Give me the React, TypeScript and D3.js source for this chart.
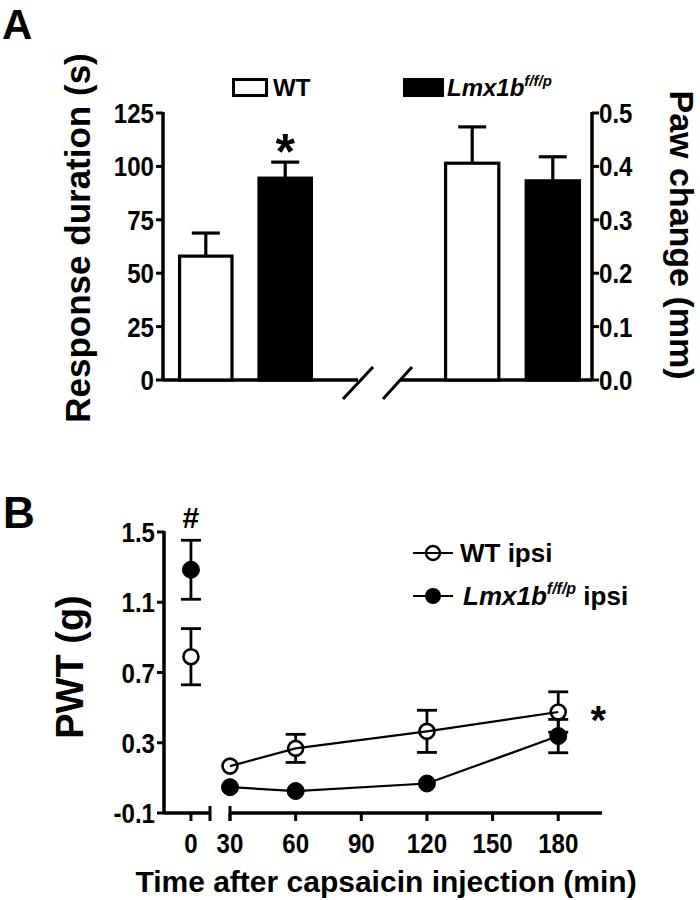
import React from "react";
import * as d3 from "d3";

// ---------- Panel A data ----------
const genotypes = ["WT", "Lmx1b"];
const durationMean = [58, 94.5];
const durationSem = [10.8, 7.5];
const pawMean = [0.406, 0.373];
const pawSem = [0.068, 0.045];
const durationTicks = [0, 25, 50, 75, 100, 125];
const pawTicks = [0, 0.1, 0.2, 0.3, 0.4, 0.5];

// ---------- Panel B data ----------
const timesB = [0, 30, 60, 120, 180];
const wtMean = [0.79, 0.167, 0.268, 0.365, 0.475];
const wtSem = [0.16, 0.02, 0.08, 0.12, 0.115];
const koMean = [1.285, 0.047, 0.025, 0.068, 0.338];
const koSem = [0.168, 0.015, 0.015, 0.015, 0.095];
const pwtTicks = [-0.1, 0.3, 0.7, 1.1, 1.5];
const timeTicks = [0, 30, 60, 90, 120, 150, 180];

const FONT = "'Liberation Sans', Arial, sans-serif";
const NARROW = 0.86;

function TickText(props: {
  x: number;
  y: number;
  anchor: "start" | "middle" | "end";
  dy?: string;
  children: React.ReactNode;
}) {
  return (
    <text
      transform={`translate(${props.x},${props.y}) scale(${NARROW},1)`}
      dy={props.dy}
      fontSize={28}
      textAnchor={props.anchor}
    >
      {props.children}
    </text>
  );
}

export default function App() {
  // Panel A scales
  const yDur = d3.scaleLinear().domain([0, 125]).range([380, 113]);
  const yPaw = d3.scaleLinear().domain([0, 0.5]).range([380, 113]);
  const xL = d3.scaleBand().domain(genotypes).range([178, 313]).paddingInner(0.3);
  const xR = d3.scaleBand().domain(genotypes).range([444, 581]).paddingInner(0.3);
  const baseA = yDur(0);
  const sw = 3.2;

  // Panel B scales
  const yB = d3.scaleLinear().domain([-0.1, 1.5]).range([813, 532]);
  const xB = d3.scaleLinear().domain([30, 200]).range([230, 602]);
  const xB0 = d3.scaleLinear().domain([-12.3, 8.7]).range([164, 210]);
  const xPos = (t: number) => (t < 30 ? xB0(t) : xB(t));
  const baseB = yB(-0.1);
  const r = 8;

  const bars = (
    xs: d3.ScaleBand<string>,
    ys: d3.ScaleLinear<number, number>,
    means: number[],
    sems: number[]
  ) =>
    genotypes.map((g, i) => {
      const x = xs(g)!;
      const w = xs.bandwidth();
      const cx = x + w / 2;
      const yt = ys(means[i]);
      const ye = ys(means[i] + sems[i]);
      return (
        <g key={g}>
          <line x1={cx} x2={cx} y1={yt} y2={ye} stroke="#000" strokeWidth={sw} />
          <line x1={cx - 14} x2={cx + 14} y1={ye} y2={ye} stroke="#000" strokeWidth={sw} />
          <rect
            x={x + sw / 2}
            y={yt}
            width={w - sw}
            height={baseA - yt}
            fill={i === 0 ? "#fff" : "#000"}
            stroke="#000"
            strokeWidth={sw}
          />
        </g>
      );
    });

  const series = (means: number[], sems: number[], filled: boolean) => {
    const pts = timesB.map((t, i) => ({ t, m: means[i], s: sems[i] }));
    const linePts = pts.filter((p) => p.t >= 30);
    const line = d3
      .line<{ t: number; m: number }>()
      .x((d) => xPos(d.t))
      .y((d) => yB(d.m));
    return (
      <g>
        <path d={line(linePts) || ""} fill="none" stroke="#000" strokeWidth={2.2} />
        {pts.map((p, i) => {
          const cx = xPos(p.t);
          const cy = yB(p.m);
          const up = yB(p.m + p.s);
          const dn = yB(p.m - p.s);
          const show = cy - up > r + 1;
          return (
            <g key={i}>
              {show && (
                <>
                  <line x1={cx} x2={cx} y1={cy - r} y2={up} stroke="#000" strokeWidth={2.8} />
                  <line x1={cx} x2={cx} y1={cy + r} y2={dn} stroke="#000" strokeWidth={2.8} />
                  <line x1={cx - 10} x2={cx + 10} y1={up} y2={up} stroke="#000" strokeWidth={2.8} />
                  <line x1={cx - 10} x2={cx + 10} y1={dn} y2={dn} stroke="#000" strokeWidth={2.8} />
                </>
              )}
              <circle
                cx={cx}
                cy={cy}
                r={filled ? r + 0.5 : r - 0.5}
                fill={filled ? "#000" : "none"}
                stroke="#000"
                strokeWidth={filled ? 1 : 2.6}
              />
            </g>
          );
        })}
      </g>
    );
  };

  return (
    <svg
      width={700}
      height={900}
      style={{ position: "absolute", left: 0, top: 0, background: "#fff" }}
      fontFamily={FONT}
      fontWeight="bold"
    >
      <rect x={0} y={0} width={700} height={900} fill="#fff" />

      {/* ================= Panel A ================= */}
      <text x={2} y={39} fontSize={42}>A</text>

      {/* legend */}
      <rect x={233.5} y={79.5} width={33} height={16} fill="#fff" stroke="#000" strokeWidth={3} />
      <text x={273} y={96} fontSize={24}>WT</text>
      <rect x={403} y={78} width={41} height={19} fill="#000" />
      <text x={447} y={96} fontSize={24} fontStyle="italic">
        Lmx1b
        <tspan dy={-10} fontSize={15}>f/f/p</tspan>
      </text>

      {/* left axis */}
      <line x1={163} x2={163} y1={yDur(125) - 1} y2={baseA} stroke="#000" strokeWidth={3.5} />
      {durationTicks.map((t) => (
        <g key={t}>
          <line x1={156} x2={163} y1={yDur(t)} y2={yDur(t)} stroke="#000" strokeWidth={3} />
          <TickText x={154} y={yDur(t)} dy="0.36em" anchor="end">
            {t}
          </TickText>
        </g>
      ))}
      <text transform={`translate(90,238) rotate(-90)`} fontSize={35} textAnchor="middle">
        Response duration (s)
      </text>

      {/* right axis */}
      <line x1={592} x2={592} y1={yPaw(0.5) - 1} y2={baseA} stroke="#000" strokeWidth={3.5} />
      {pawTicks.map((t) => (
        <g key={t}>
          <line x1={592} x2={599} y1={yPaw(t)} y2={yPaw(t)} stroke="#000" strokeWidth={3} />
          <TickText x={599} y={yPaw(t)} dy="0.36em" anchor="start">
            {t.toFixed(1)}
          </TickText>
        </g>
      ))}
      <text transform={`translate(670,235) rotate(90)`} fontSize={34} textAnchor="middle">
        Paw change (mm)
      </text>

      {/* baseline with break */}
      <line x1={163} x2={358} y1={baseA} y2={baseA} stroke="#000" strokeWidth={3.5} />
      <line x1={400} x2={592} y1={baseA} y2={baseA} stroke="#000" strokeWidth={3.5} />
      <line x1={343} y1={399} x2={373} y2={367} stroke="#000" strokeWidth={3} />
      <line x1={383} y1={399} x2={412} y2={367} stroke="#000" strokeWidth={3} />

      {bars(xL, yDur, durationMean, durationSem)}
      {bars(xR, yPaw, pawMean, pawSem)}

      <text
        x={(xL("Lmx1b") || 0) + xL.bandwidth() / 2}
        y={169}
        fontSize={50}
        textAnchor="middle"
      >
        *
      </text>

      {/* ================= Panel B ================= */}
      <text x={3} y={528} fontSize={44}>B</text>

      {/* y axis */}
      <line x1={164} x2={164} y1={yB(1.5) - 1} y2={baseB} stroke="#000" strokeWidth={3.5} />
      {pwtTicks.map((t) => (
        <g key={t}>
          <line x1={157} x2={164} y1={yB(t)} y2={yB(t)} stroke="#000" strokeWidth={3} />
          <TickText x={155} y={yB(t)} dy="0.36em" anchor="end">
            {t.toFixed(1)}
          </TickText>
        </g>
      ))}
      <text transform={`translate(83,667) rotate(-90)`} fontSize={38} textAnchor="middle">
        PWT (g)
      </text>

      {/* x axis with break */}
      <line x1={164} x2={210} y1={baseB} y2={baseB} stroke="#000" strokeWidth={3.5} />
      <line x1={210} x2={210} y1={baseB - 7} y2={baseB + 8} stroke="#000" strokeWidth={3} />
      <line x1={230} x2={602} y1={baseB} y2={baseB} stroke="#000" strokeWidth={3.5} />
      <line x1={230} x2={230} y1={baseB - 7} y2={baseB + 8} stroke="#000" strokeWidth={3} />
      {timeTicks.map((t) => (
        <g key={t}>
          <line x1={xPos(t)} x2={xPos(t)} y1={baseB} y2={baseB + 8} stroke="#000" strokeWidth={3} />
          <TickText x={xPos(t)} y={853} anchor="middle">
            {t}
          </TickText>
        </g>
      ))}
      <text x={386} y={892} fontSize={30} textAnchor="middle">
        Time after capsaicin injection (min)
      </text>

      {series(koMean, koSem, true)}
      {series(wtMean, wtSem, false)}

      <text x={xPos(0)} y={528} fontSize={30} textAnchor="middle">#</text>
      <text x={xB(180) + 40} y={734} fontSize={40} textAnchor="middle">*</text>

      {/* legend B */}
      <line x1={413} x2={453} y1={553} y2={553} stroke="#000" strokeWidth={2.2} />
      <circle cx={433} cy={553} r={7} fill="none" stroke="#000" strokeWidth={2.4} />
      <text x={460} y={562} fontSize={26}>WT ipsi</text>
      <line x1={413} x2={453} y1={596} y2={596} stroke="#000" strokeWidth={2.2} />
      <circle cx={433} cy={596} r={8} fill="#000" />
      <text x={463} y={605} fontSize={26}>
        <tspan fontStyle="italic">Lmx1b</tspan>
        <tspan dy={-11} fontSize={16} fontStyle="italic">f/f/p</tspan>
        <tspan dy={11}> ipsi</tspan>
      </text>
    </svg>
  );
}
